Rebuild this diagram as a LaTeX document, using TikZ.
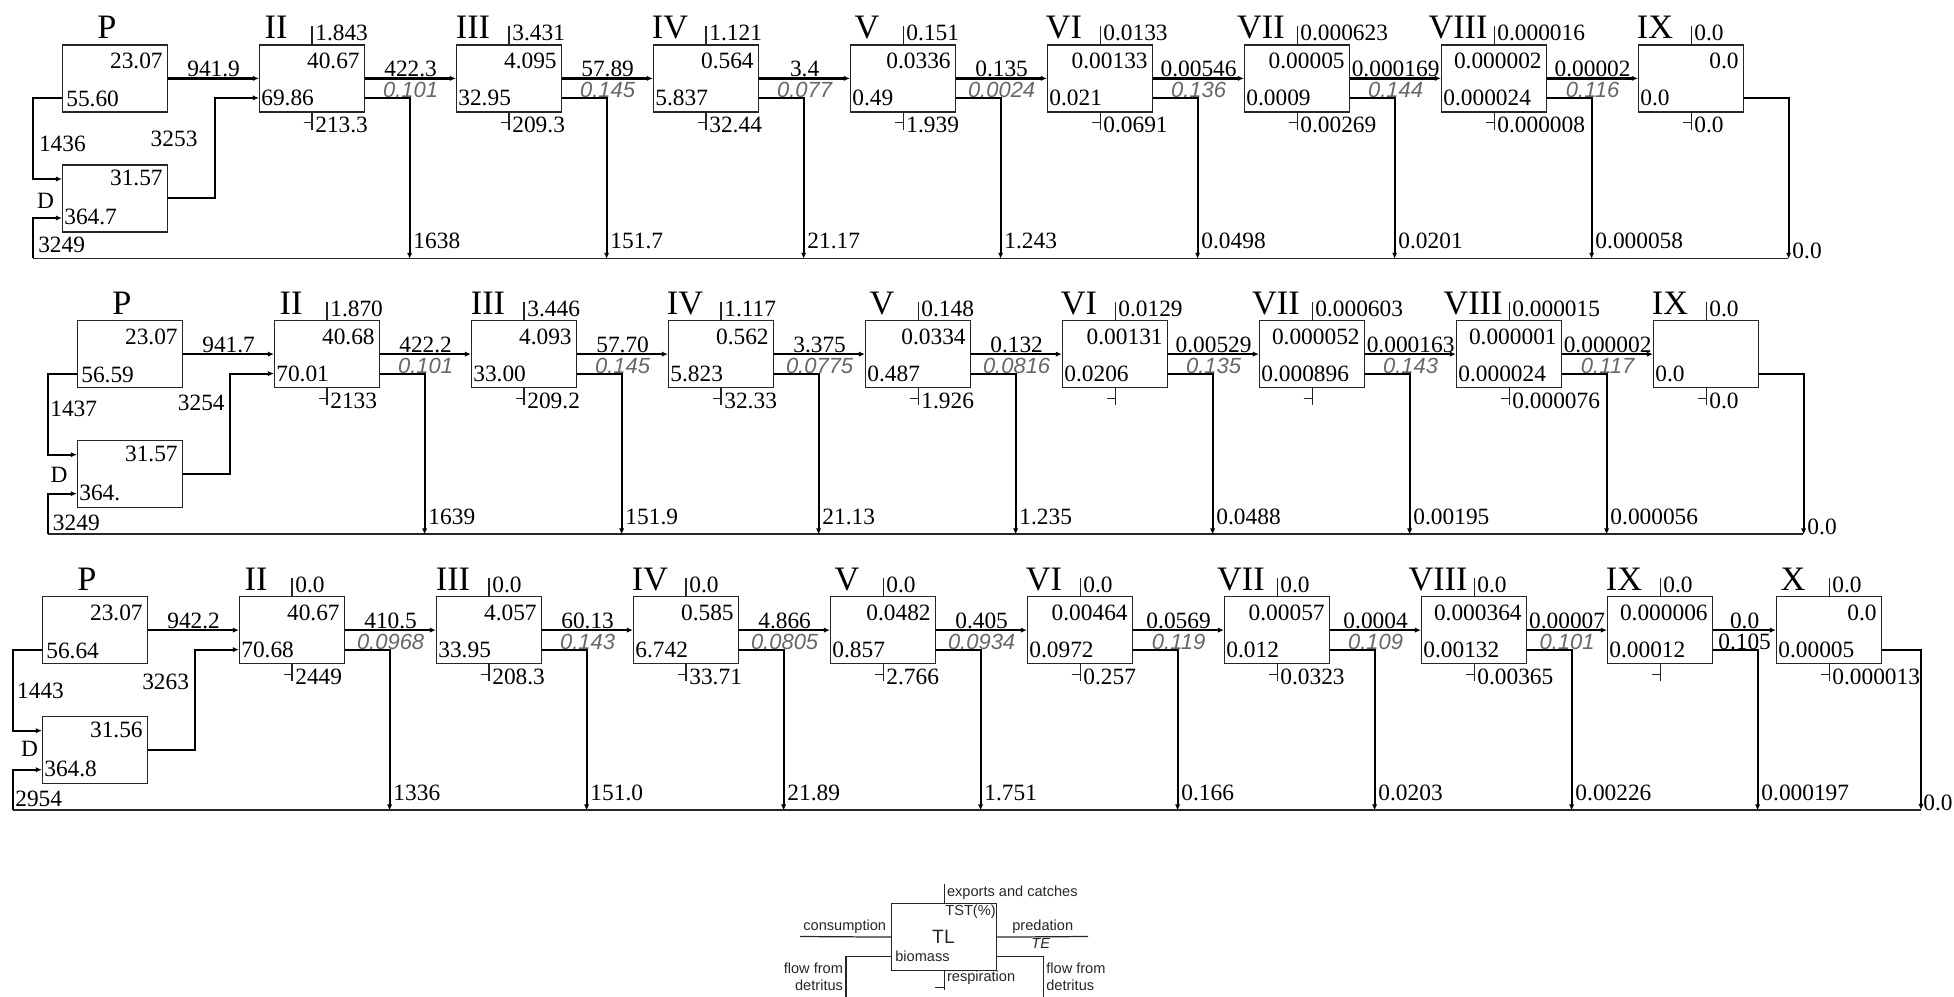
\documentclass[tikz,border=0pt]{standalone}
\usepackage{fontspec}
\setmainfont{Liberation Serif}
\setsansfont{Liberation Sans}
\usepackage{tikz}
\usetikzlibrary{arrows.meta}

\definecolor{tegray}{gray}{0.4}

\tikzset{
  tlnode/.style={draw=black!85, line width=0.7pt, minimum width=2.1cm, minimum height=1.34cm, inner sep=0pt, anchor=north west},
  roman/.style={font=\fontsize{19.5}{22}\selectfont, inner sep=0pt, anchor=base},
  num/.style={font=\fontsize{13.3}{15}\selectfont, inner sep=0pt},
  te/.style={font=\sffamily\itshape\fontsize{12.5}{14}\selectfont, text=tegray, inner sep=0pt},
  lg/.style={font=\sffamily\fontsize{8.3}{10}\selectfont, text=black!85, inner sep=0pt},
  lgbig/.style={font=\sffamily\fontsize{11}{13}\selectfont, text=black!85, inner sep=0pt, anchor=base},
  thinline/.style={draw=black!85, line width=0.7pt},
  flowline/.style={draw=black, line width=1.3pt, -{Latex[length=3.5pt,width=3pt]}},
  linkline/.style={draw=black, line width=1.1pt, -{Latex[length=3.5pt,width=3pt]}}
}

% box of one trophic level: name, x, y, level, exports, top value, bottom value, respiration
\newcommand{\tlbox}[8]{%
  \node[tlnode] (#1) at (#2,#3) {};
  \node[roman] (#1n) at (#2+17,#3-6) {#4};
  \draw[thinline] (#1.north) -- ++(0,-18);
  \node[num, anchor=base west] (#1e) at (#2+56,#3-4) {#5};
  \node[num, anchor=base east] (#1t) at (#2+101,#3+24) {#6};
  \node[num, anchor=base west] (#1b) at (#2+2,#3+61) {#7};
  \draw[thinline] (#1.south) -- ++(0,17) ([shift={(-8.5,10)}]#1.south) -- ++(8.5,0);
  \node[num, anchor=base west] (#1r) at (#2+56,#3+88) {#8};
}
% predation from one level to the next, with TE
\newcommand{\tlflow}[4]{%
  \draw[flowline] (#1) -- (#2)
    node[num, midway, anchor=base, yshift=1pt] (#1v) {#3}
    node[te, midway, anchor=base, yshift=-10.8pt] (#1w) {#4};
}
% flow to detritus
\newcommand{\tlout}[3][0]{%
  \coordinate (#2d) at ([shift={(97.5,180.5)}]#2.center);
  \draw[linkline] ([shift={(0,19.5)}]#2.east) -| (#2d);
  \node[num, anchor=base west] (#2dl) at ([shift={(3.5,#1-10)}]#2d) {#3};
}

\begin{document}
\begin{tikzpicture}[x=0.02cm,y=-0.02cm]
\useasboundingbox (0,0) rectangle (1954,997);

% first row
\node[tlnode] (P1) at (62,44.3) {};
\node[roman] (P1n) at (107,38.3) {P};
\node[num, anchor=base east] (P1t) at (163,68.3) {23.07};
\node[num, anchor=base west] (P1b) at (66,106.3) {55.60};
\node[tlnode] (D1) at (62,164.3) {};
\node[num, anchor=base] (D1n) at (45.5,208.3) {D};
\node[num, anchor=base east] (D1t) at (163,185) {31.57};
\node[num, anchor=base west] (D1b) at (64,224) {364.7};
\tlbox{II1}{259}{44.3}{II}{1.843}{40.67}{69.86}{213.3}
\tlbox{III1}{456}{44.3}{III}{3.431}{4.095}{32.95}{209.3}
\tlbox{IV1}{653}{44.3}{IV}{1.121}{0.564}{5.837}{32.44}
\tlbox{V1}{850}{44.3}{V}{0.151}{0.0336}{0.49}{1.939}
\tlbox{VI1}{1047}{44.3}{VI}{0.0133}{0.00133}{0.021}{0.0691}
\tlbox{VII1}{1244}{44.3}{VII}{0.000623}{0.00005}{0.0009}{0.00269}
\tlbox{VIII1}{1441}{44.3}{VIII}{0.000016}{0.000002}{0.000024}{0.000008}
\tlbox{IX1}{1638}{44.3}{IX}{0.0}{0.0}{0.0}{0.0}

\coordinate (w1) at (33,258.3);
\coordinate (e1) at (1788,258.3);
\draw[thinline] (w1) -- (e1);
\draw[linkline] ([shift={(0,19.5)}]P1.west) -- ++(-29,0) |- ([shift={(0,-19.4)}]D1.west);
\node[num, anchor=base west] (PD1) at (38.7,151.7) {1436};
\draw[linkline] (D1.east) -- ++(46.5,0) |- ([shift={(0,19.5)}]II1.west);
\node[num, anchor=base east] (DII1) at (197.8,146.7) {3253};
\draw[linkline] (w1) |- ([shift={(0,19.6)}]D1.west);
\node[num, anchor=base west] (WD1) at (37.9,252.3) {3249};

\tlflow{P1}{II1}{941.9}{}
\tlflow{II1}{III1}{422.3}{0.101}
\tlflow{III1}{IV1}{57.89}{0.145}
\tlflow{IV1}{V1}{3.4}{0.077}
\tlflow{V1}{VI1}{0.135}{0.0024}
\tlflow{VI1}{VII1}{0.00546}{0.136}
\tlflow{VII1}{VIII1}{0.000169}{0.144}
\tlflow{VIII1}{IX1}{0.00002}{0.116}
\tlout{II1}{1638}
\tlout{III1}{151.7}
\tlout{IV1}{21.17}
\tlout{V1}{1.243}
\tlout{VI1}{0.0498}
\tlout{VII1}{0.0201}
\tlout{VIII1}{0.000058}
\tlout[10]{IX1}{0.0}

% second row
\node[tlnode] (P2) at (77,320) {};
\node[roman] (P2n) at (122,314) {P};
\node[num, anchor=base east] (P2t) at (178,344) {23.07};
\node[num, anchor=base west] (P2b) at (81,382) {56.59};
\node[tlnode] (D2) at (77,440) {};
\node[num, anchor=base] (D2n) at (59,482) {D};
\node[num, anchor=base east] (D2t) at (178,461) {31.57};
\node[num, anchor=base west] (D2b) at (79,500) {364.};
\tlbox{II2}{274}{320}{II}{1.870}{40.68}{70.01}{2133}
\tlbox{III2}{471}{320}{III}{3.446}{4.093}{33.00}{209.2}
\tlbox{IV2}{668}{320}{IV}{1.117}{0.562}{5.823}{32.33}
\tlbox{V2}{865}{320}{V}{0.148}{0.0334}{0.487}{1.926}
\tlbox{VI2}{1062}{320}{VI}{0.0129}{0.00131}{0.0206}{}
\tlbox{VII2}{1259}{320}{VII}{0.000603}{0.000052}{0.000896}{}
\tlbox{VIII2}{1456}{320}{VIII}{0.000015}{0.000001}{0.000024}{0.000076}
\tlbox{IX2}{1653}{320}{IX}{0.0}{}{0.0}{0.0}

\coordinate (w2) at (48,534);
\coordinate (e2) at (1803,534);
\draw[thinline] (w2) -- (e2);
\draw[linkline] ([shift={(0,19.5)}]P2.west) -- ++(-29,0) |- ([shift={(0,-19.4)}]D2.west);
\node[num, anchor=base west] (PD2) at (50,416.7) {1437};
\draw[linkline] (D2.east) -- ++(46.5,0) |- ([shift={(0,19.5)}]II2.west);
\node[num, anchor=base east] (DII2) at (225,410) {3254};
\draw[linkline] (w2) |- ([shift={(0,19.6)}]D2.west);
\node[num, anchor=base west] (WD2) at (52.6,530) {3249};

\tlflow{P2}{II2}{941.7}{}
\tlflow{II2}{III2}{422.2}{0.101}
\tlflow{III2}{IV2}{57.70}{0.145}
\tlflow{IV2}{V2}{3.375}{0.0775}
\tlflow{V2}{VI2}{0.132}{0.0816}
\tlflow{VI2}{VII2}{0.00529}{0.135}
\tlflow{VII2}{VIII2}{0.000163}{0.143}
\tlflow{VIII2}{IX2}{0.000002}{0.117}
\tlout{II2}{1639}
\tlout{III2}{151.9}
\tlout{IV2}{21.13}
\tlout{V2}{1.235}
\tlout{VI2}{0.0488}
\tlout{VII2}{0.00195}
\tlout{VIII2}{0.000056}
\tlout[10]{IX2}{0.0}

% third row
\node[tlnode] (P3) at (42,596) {};
\node[roman] (P3n) at (87,590) {P};
\node[num, anchor=base east] (P3t) at (143,620) {23.07};
\node[num, anchor=base west] (P3b) at (46,658) {56.64};
\node[tlnode] (D3) at (42,716) {};
\node[num, anchor=base] (D3n) at (29.5,756.7) {D};
\node[num, anchor=base east] (D3t) at (143,737) {31.56};
\node[num, anchor=base west] (D3b) at (44,776) {364.8};
\tlbox{II3}{239}{596}{II}{0.0}{40.67}{70.68}{2449}
\tlbox{III3}{436}{596}{III}{0.0}{4.057}{33.95}{208.3}
\tlbox{IV3}{633}{596}{IV}{0.0}{0.585}{6.742}{33.71}
\tlbox{V3}{830}{596}{V}{0.0}{0.0482}{0.857}{2.766}
\tlbox{VI3}{1027}{596}{VI}{0.0}{0.00464}{0.0972}{0.257}
\tlbox{VII3}{1224}{596}{VII}{0.0}{0.00057}{0.012}{0.0323}
\tlbox{VIII3}{1421}{596}{VIII}{0.0}{0.000364}{0.00132}{0.00365}
\tlbox{IX3}{1607}{596}{IX}{0.0}{0.000006}{0.00012}{}
\tlbox{X3}{1776}{596}{X}{0.0}{0.0}{0.00005}{0.000013}

\coordinate (w3) at (13,810);
\coordinate (e3) at (1921,810);
\draw[thinline] (w3) -- (e3);
\draw[linkline] ([shift={(0,19.5)}]P3.west) -- ++(-29,0) |- ([shift={(0,-19.4)}]D3.west);
\node[num, anchor=base west] (PD3) at (16.8,698.3) {1443};
\draw[linkline] (D3.east) -- ++(46.5,0) |- ([shift={(0,19.5)}]II3.west);
\node[num, anchor=base east] (DII3) at (189.4,689.3) {3263};
\draw[linkline] (w3) |- ([shift={(0,19.6)}]D3.west);
\node[num, anchor=base west] (WD3) at (15,806.7) {2954};

\tlflow{P3}{II3}{942.2}{}
\tlflow{II3}{III3}{410.5}{0.0968}
\tlflow{III3}{IV3}{60.13}{0.143}
\tlflow{IV3}{V3}{4.866}{0.0805}
\tlflow{V3}{VI3}{0.405}{0.0934}
\tlflow{VI3}{VII3}{0.0569}{0.119}
\tlflow{VII3}{VIII3}{0.0004}{0.109}
\tlflow{VIII3}{IX3}{0.00007}{0.101}
\tlflow{IX3}{X3}{0.0}{\color{black}\rmfamily\upshape\fontsize{13.3}{15}\selectfont 0.105}
\tlout{II3}{1336}
\tlout{III3}{151.0}
\tlout{IV3}{21.89}
\tlout{V3}{1.751}
\tlout{VI3}{0.166}
\tlout{VII3}{0.0203}
\tlout{VIII3}{0.00226}
\tlout{IX3}{0.000197}
% last outflow kept inside the page
\draw[linkline] ([shift={(0,19.5)}]X3.east) -| (e3);
\node[num, anchor=base west] (X3dl) at (1923,810) {0.0};

% legend
\node[tlnode] (K) at (891,903) {};
\node[lgbig] (Kn) at (943.5,943.3) {TL};
\draw[thinline] (K.north) -- ++(0,-19);
\node[lg, anchor=base west] (Ke) at (946.7,896) {exports and catches};
\node[lg, anchor=base east] (Kt) at (996,915.7) {TST(\%)};
\coordinate (Kc) at (800,936.5);
\draw[thinline] (Kc) -- (K.west);
\node[lg, anchor=base west] (Kcl) at (803,930) {consumption};
\coordinate (Kp) at (1088,936.5);
\draw[thinline] (K.east) -- (Kp);
\node[lg, anchor=base west] (Kpl) at (1012,930) {predation};
\node[lg, font=\sffamily\itshape\fontsize{8.3}{10}\selectfont, anchor=base west] (Kte) at (1031,948.7) {TE};
\node[lg, anchor=base west] (Kb) at (895,961.7) {biomass};
\coordinate (Kfl) at (846,997);
\coordinate (Kfr) at (1043.3,997);
\draw[thinline] ([shift={(0,19.5)}]K.west) -| (Kfl);
\draw[thinline] ([shift={(0,19.5)}]K.east) -| (Kfr);
\node[lg, anchor=base east] (Kl1) at (843.3,973.3) {flow from};
\node[lg, anchor=base east] (Kl2) at (843.3,990) {detritus};
\node[lg, anchor=base west] (Kr1) at (1046,973.3) {flow from};
\node[lg, anchor=base west] (Kr2) at (1046,990) {detritus};
\draw[thinline] (K.south) -- ++(0,19) ([shift={(-9.5,16)}]K.south) -- ++(9.5,0);
\node[lg, anchor=base west] (Kr) at (946.7,981.7) {respiration};
\end{tikzpicture}
\end{document}
